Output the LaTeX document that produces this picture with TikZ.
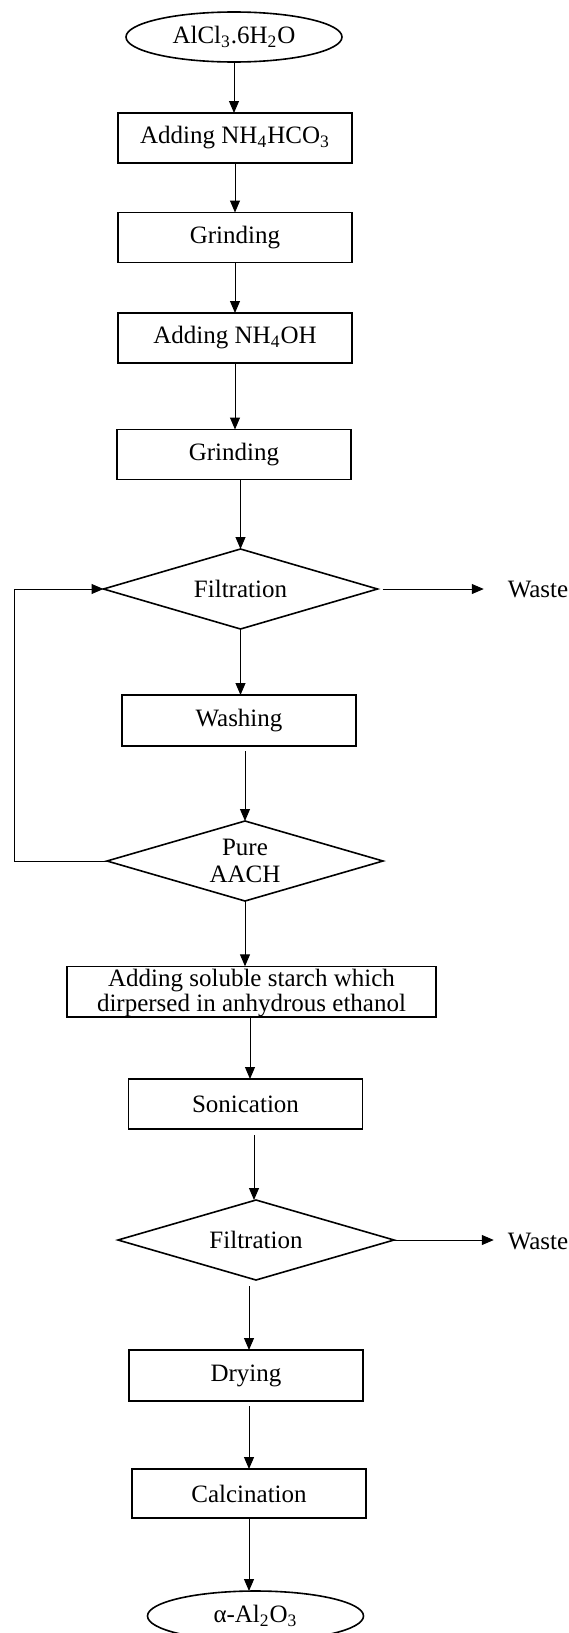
\documentclass[tikz,border=0pt]{standalone}
\usepackage{fontspec}
\setmainfont{Liberation Serif}
\usetikzlibrary{shapes.geometric,arrows.meta}
\begin{document}
\begin{tikzpicture}[x=0.5pt,y=-0.5pt,
  font=\fontsize{12.5}{13.5}\selectfont,
  box/.style={draw, line width=0.8pt, rectangle, minimum width=117pt, minimum height=25pt, inner sep=0pt, outer sep=0pt, align=center},
  oval/.style={draw, line width=0.8pt, ellipse, minimum width=108pt, minimum height=25pt, inner sep=0pt, outer sep=0pt},
  dia/.style={draw, line width=0.8pt, diamond, aspect=3.4, minimum width=137pt, minimum height=40pt, inner sep=0pt, outer sep=0pt, align=center},
  lbl/.style={inner sep=0pt, outer sep=0pt},
  arr/.style={-{Triangle[length=6pt,width=5pt]}, line width=0.5pt}]
\useasboundingbox (0,0) rectangle (568,1633);

\node[oval] (s) at (234,37) {AlCl\textsubscript{3}.6H\textsubscript{2}O};
\node[box] (b1) at (235,138) {Adding NH\textsubscript{4}HCO\textsubscript{3}};
\node[box] (b2) at (235,237.5) {Grinding};
\node[box] (b3) at (235,338) {Adding NH\textsubscript{4}OH};
\node[box] (b4) at (234,454.5) {Grinding};
\node[dia] (f1) at (240.5,589) {Filtration};
\node[lbl] (w1) at (538,589) {Waste};
\node[box, minimum height=25.5pt] (wa) at (239,720.5) {Washing};
\node[dia, minimum width=138pt] (p) at (245,861) {Pure\\AACH};
\node[box, minimum width=184.5pt, minimum height=24.5pt, font=\fontsize{12.5}{12.5}\selectfont] (st) at (251.5,991.5) {\rule{0pt}{10pt}Adding soluble starch which\\dirpersed in anhydrous ethanol};
\node[box] (so) at (245.5,1104) {Sonication};
\node[dia, minimum width=138pt] (f2) at (256,1240) {Filtration};
\node[lbl] (w2) at (538,1241) {Waste};
\node[box, minimum height=25.5pt] (d) at (246,1375.5) {Drying};
\node[box, minimum height=24.5pt] (c) at (249,1493.5) {Calcination};
\node[oval] (e) at (255.5,1616) {α-Al\textsubscript{2}O\textsubscript{3}};

\draw[arr] (s.south) -- (s.south |- b1.north);
\draw[arr] (b1.south) -- (b2.north);
\draw[arr] (b2.south) -- (b3.north);
\draw[arr] (b3.south) -- (b3.south |- b4.north);
\draw[arr] (f1.north |- b4.south) -- (f1.north);
\draw[arr] (f1.south) -- (f1.south |- wa.north);
\draw[arr, shorten <=2.5pt] (p.north |- wa.south) -- (p.north);
\draw[arr] (p.south) -- (p.south |- st.north);
\draw[arr] ([xshift=-0.75pt]st.south) -- ([xshift=-0.75pt]st.south |- so.north);
\draw[arr, shorten <=3pt] ([xshift=-1pt]f2.north |- so.south) -- ([xshift=-1pt]f2.north);
\draw[arr, shorten <=3pt] (c.north |- f2.south) -- (c.north |- d.north);
\draw[arr, shorten <=2.5pt] (c.north |- d.south) -- (c.north);
\draw[arr] (c.south) -- (c.south |- e.north);

\coordinate (lp) at (14,861);
\draw[arr] (p.west) -- (lp) |- (f1.west);

\draw[arr, shorten <=2.5pt, shorten >=12pt] (f1.east) -- (f1.east -| w1.west);
\draw[arr, shorten >=7pt] (f2.east) -- (f2.east -| w2.west);
\end{tikzpicture}
\end{document}
